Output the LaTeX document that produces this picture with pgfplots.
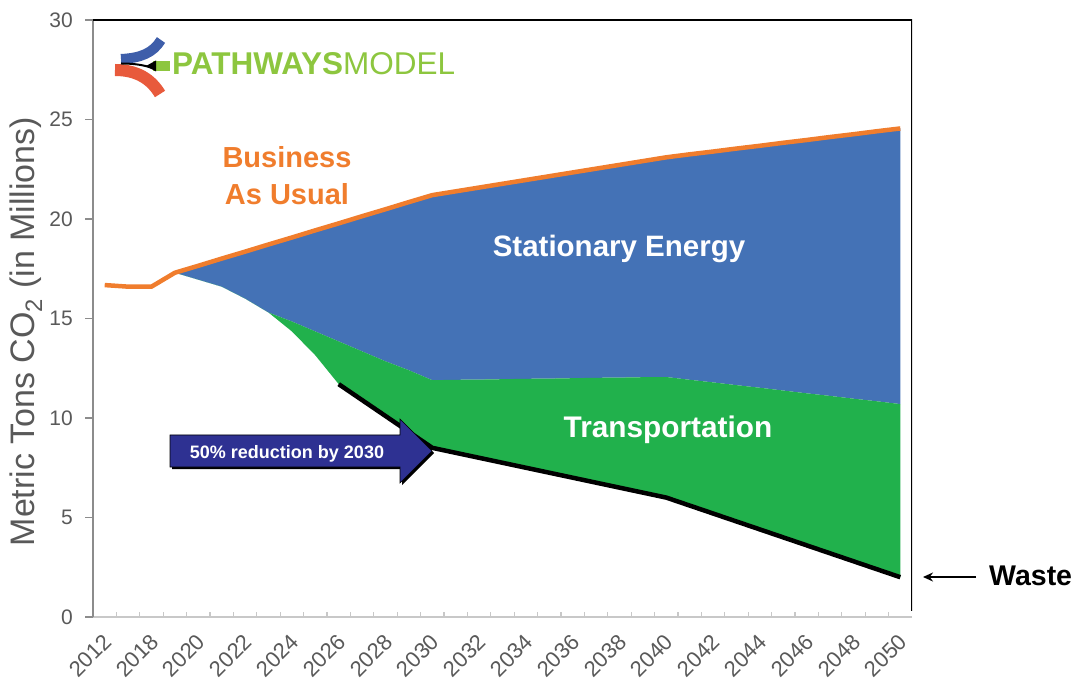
\documentclass[border=0pt]{standalone}
\usepackage{pgfplots}
\pgfplotsset{compat=1.18}
\usepackage{pgfplotstable}
\usepgfplotslibrary{fillbetween}
\usetikzlibrary{arrows.meta}
\usepackage{fontspec}
\setmainfont{Liberation Sans}
\definecolor{bauorange}{RGB}{240,125,45}
\definecolor{statblue}{RGB}{68,114,182}
\definecolor{transgreen}{RGB}{33,177,76}
\definecolor{arrowblue}{RGB}{46,49,146}
\definecolor{tickgray}{RGB}{89,89,89}
\definecolor{axgray}{RGB}{140,140,140}
\definecolor{lightax}{RGB}{200,200,200}
\definecolor{logogreen}{RGB}{141,198,63}
\definecolor{logoblue}{RGB}{62,94,170}
\definecolor{logored}{RGB}{232,90,60}

\pgfplotstableread{
i  bau   gtop  low
0  16.68 16.68 16.68
1  16.60 16.60 16.60
2  16.60 16.60 16.60
3  17.30 17.30 17.30
4  17.65 16.95 16.95
5  18.01 16.60 16.60
6  18.36 16.00 16.00
7  18.72 15.30 15.30
8  19.07 14.85 14.35
9  19.43 14.35 13.15
10 19.78 13.85 11.70
11 20.14 13.35 10.90
12 20.49 12.85 10.10
13 20.85 12.40 9.30
14 21.20 11.90 8.50
15 21.39 11.92 8.25
16 21.58 11.93 8.00
17 21.77 11.95 7.75
18 21.96 11.97 7.50
19 22.15 11.98 7.25
20 22.34 12.00 7.00
21 22.53 12.02 6.75
22 22.72 12.03 6.50
23 22.91 12.05 6.25
24 23.10 12.06 6.00
25 23.25 11.92 5.60
26 23.39 11.79 5.20
27 23.54 11.65 4.80
28 23.68 11.52 4.40
29 23.83 11.38 4.00
30 23.97 11.24 3.60
31 24.12 11.11 3.20
32 24.26 10.97 2.80
33 24.41 10.84 2.40
34 24.55 10.70 2.00
}\data

\begin{document}
\begin{tikzpicture}
\path (0pt,0pt) rectangle (1078pt,683pt);
\begin{axis}[
  at={(93pt,66pt)}, anchor=south west,
  scale only axis, width=819pt, height=597pt,
  xmin=-0.5, xmax=34.5, ymin=0, ymax=30,
  axis x line*=bottom, axis y line*=left,
  x axis line style={color=lightax, line width=1.8pt, -},
  y axis line style={color=axgray, line width=1.6pt, -},
  xtick={0,2,...,34},
  xticklabels={2012,2018,2020,2022,2024,2026,2028,2030,2032,2034,2036,2038,2040,2042,2044,2046,2048,2050},
  minor xtick={0.5,1.5,...,33.5},
  ytick={0,5,...,30},
  tick align=outside,
  major tick length=8pt,
  minor tick length=5pt,
  major x tick style={draw=none},
  minor x tick style={color=lightax, line width=1.2pt, yshift=5pt},
  ytick style={color=axgray, line width=1.2pt},
  /pgf/number format/assume math mode=true,
  xticklabel style={xshift=3pt, yshift=-13pt, rotate=45, anchor=east, inner sep=0pt,
    font=\fontsize{22}{26}\selectfont, color=tickgray},
  yticklabel style={inner sep=0pt, xshift=-12pt, font=\fontsize{21}{25}\selectfont, color=tickgray},
  ylabel={Metric Tons CO\textsubscript{2} (in Millions)},
  ylabel style={at={(axis description cs:-0.082,0.478)}, anchor=center,
    font=\fontsize{34}{40}\selectfont, color=tickgray},
]
\addplot[draw=none, name path=baufill, restrict x to domain=3:34] table[x=i,y=bau] {\data};
\addplot[draw=none, name path=gtop, restrict x to domain=3:34] table[x=i,y=gtop] {\data};
\addplot[draw=none, name path=low, restrict x to domain=3:34] table[x=i,y=low] {\data};
\addplot[fill=statblue, draw=none] fill between[of=baufill and gtop];
\addplot[fill=transgreen, draw=none] fill between[of=gtop and low];
\addplot[black, line width=4.5pt, line join=round, restrict x to domain=10:34] table[x=i,y=low] {\data};
\addplot[bauorange, line width=4.5pt, line join=round] table[x=i,y=bau] {\data};
\draw[black, line width=1.8pt] (rel axis cs:0,1) -- (rel axis cs:1,1) -- (rel axis cs:1,0.01);
\end{axis}

\begin{scope}[x=1pt,y=1pt]
% logo
\draw[line width=10pt, logoblue] (161,643) .. controls (153,630) and (141,625) .. (121,624);
\draw[line width=12pt, logored] (115,613) .. controls (137,613) and (151,604) .. (160,589);
\draw[line width=2pt, black] (121,619.5) .. controls (134,619.5) and (144,618) .. (152,615);
\fill[logogreen] (153,612) rectangle (170,622);
\fill[black] (146,617) -- (156,622.5) -- (156,611.5) -- cycle;
\node[anchor=base west, inner sep=0pt, text=logogreen, font=\fontsize{31.5}{36}\selectfont] at (172,608) {\textbf{PATHWAYS}MODEL};
% labels
\node[anchor=base, inner sep=0pt, text=bauorange, font=\bfseries\fontsize{29}{34}\selectfont] at (287,515) {Business};
\node[anchor=base, inner sep=0pt, text=bauorange, font=\bfseries\fontsize{29}{34}\selectfont] at (287,478) {As Usual};
\node[anchor=base, inner sep=0pt, text=white, font=\bfseries\fontsize{29.5}{34}\selectfont] at (619,426) {Stationary Energy};
\node[anchor=base, inner sep=0pt, text=white, font=\bfseries\fontsize{29.8}{34}\selectfont] at (668,245) {Transportation};
% block arrow
\fill[black] (172,246) -- (402,246) -- (402,262) -- (434,230) -- (402,198) -- (402,214) -- (172,214) -- cycle;
\fill[arrowblue, draw=black, line width=0.6pt] (170,248) -- (400,248) -- (400,264) -- (432,232) -- (400,200) -- (400,216) -- (170,216) -- cycle;
\node[anchor=base, inner sep=0pt, text=white, font=\bfseries\fontsize{18}{21}\selectfont] at (287,224) {50\% reduction by 2030};
% waste
\draw[-{Stealth[length=10pt,width=9pt]}, line width=2.2pt] (976,106) -- (923,106);
\node[anchor=base west, inner sep=0pt, font=\bfseries\fontsize{28.5}{33}\selectfont] at (989,98) {Waste};
\end{scope}
\end{tikzpicture}
\end{document}
